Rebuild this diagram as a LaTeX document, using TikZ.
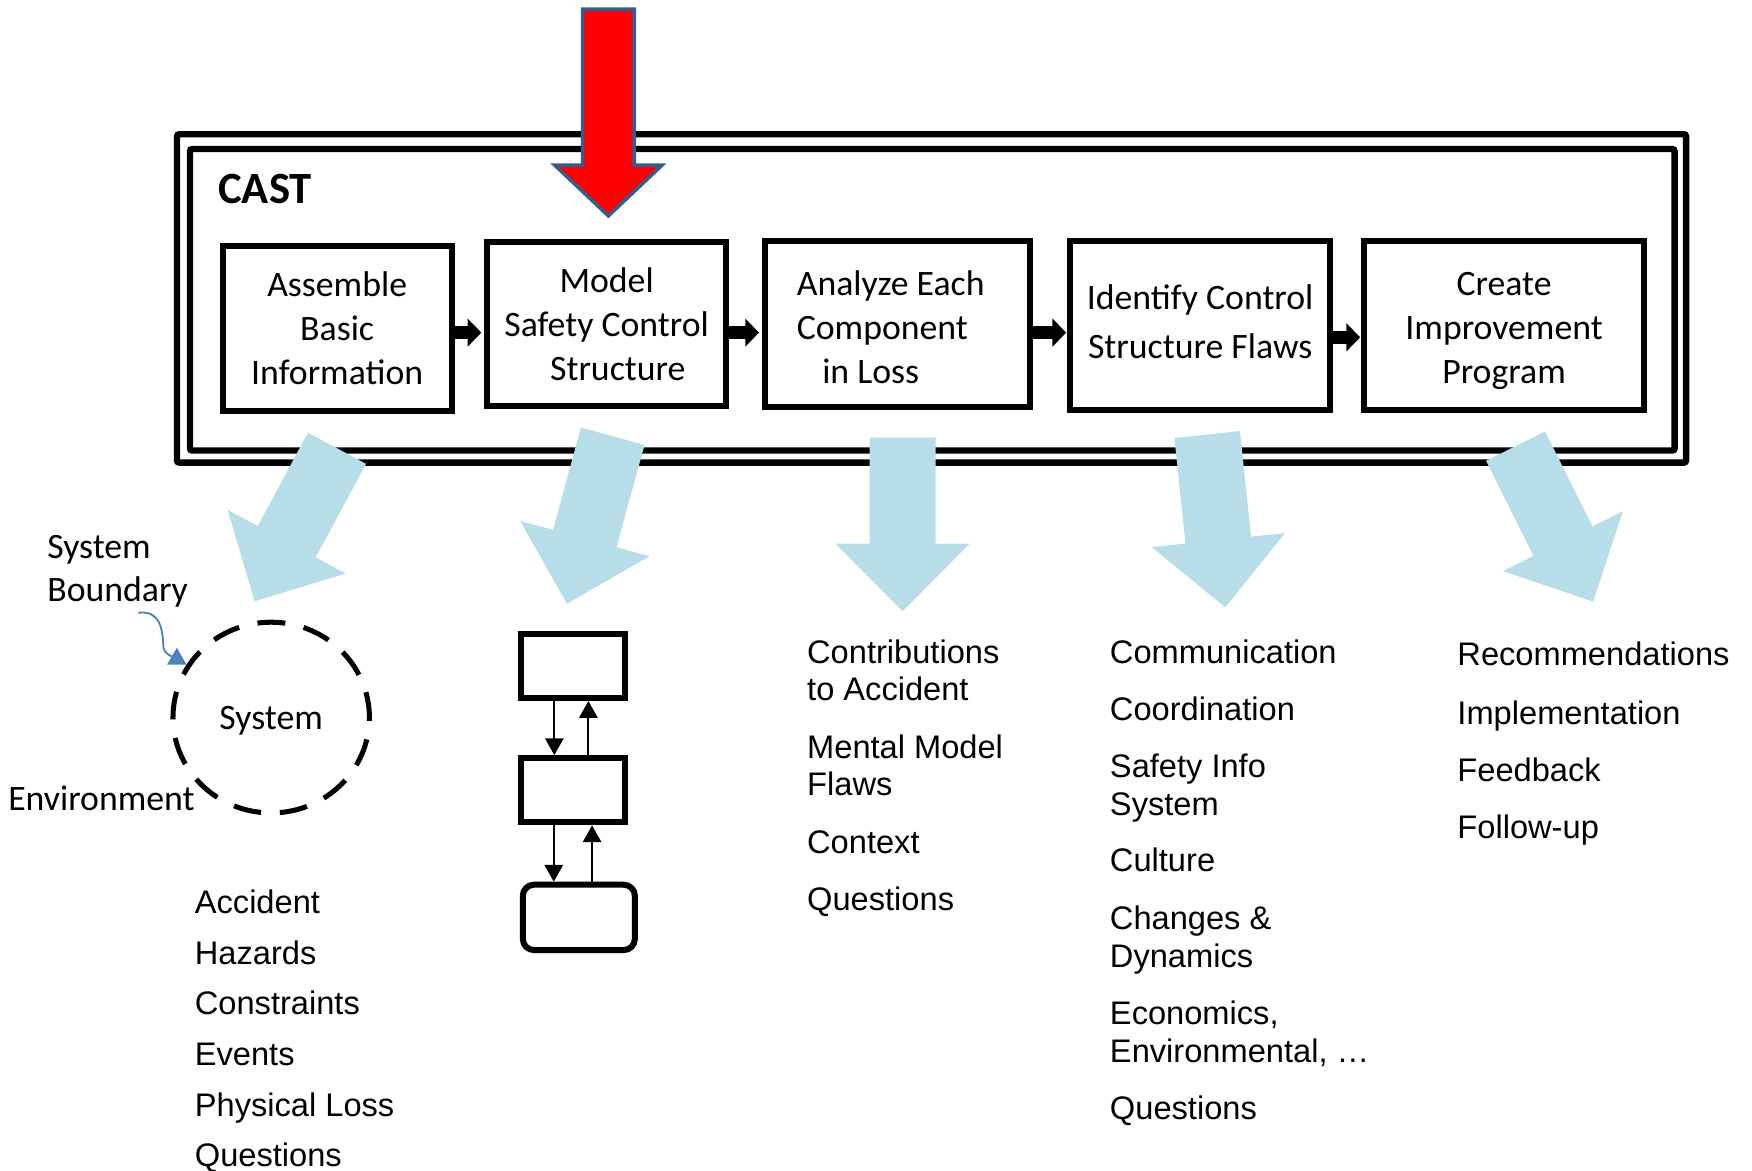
\documentclass[tikz,border=0pt]{standalone}
\usepackage{fontspec}
\setmainfont{Carlito}
\newfontfamily\listfont{Liberation Sans}
\usetikzlibrary{arrows.meta,shapes.geometric,calc}

\definecolor{tealfill}{HTML}{B7DDE8}
\definecolor{redfill}{HTML}{FF0000}
\definecolor{redline}{RGB}{56,93,138}
\definecolor{bdryblue}{HTML}{4A7EBB}
\definecolor{bdryhead}{HTML}{4F81BD}

% light blue block arrow: tail centre at #1, turned by #2 degrees
\newcommand\tealarrow[2]{%
  \begin{scope}[shift={(#1)},rotate=#2]
    \fill[tealfill] (-29.5,0) -- (29.5,0) -- (29.5,95) -- (60,95) -- (0,155.5)
      -- (-60,95) -- (-29.5,95) -- cycle;
  \end{scope}}

\tikzset{
  frameline/.style={draw, line width=2.85pt, rounded corners=1pt},
  stepbox/.style={draw, line width=2.6pt, align=center, inner sep=0pt,
    font=\fontsize{16}{19.7}\selectfont},
  flowarrow/.style={line width=5.95pt, -{Triangle[length=6.15pt,width=12.25pt]}},
  ctrlbox/.style={draw, line width=2.7pt, inner sep=0pt},
  ctrlarrow/.style={line width=0.9pt, -{Triangle[length=7.5pt,width=8.2pt]}},
  plain/.style={inner sep=0pt, anchor=base west, font=\fontsize{16}{19.7}\selectfont},
  listtext/.style={inner sep=0pt, anchor=base west,
    font=\listfont\fontsize{14.6}{16.8}\selectfont},
}

\begin{document}
\begin{tikzpicture}[x=0.5pt,y=-0.5pt]
\useasboundingbox (0,0) rectangle (1568,1048);

% double frame of the CAST process
\draw[frameline] (158.4,120.1) rectangle (1509,414);
\draw[frameline] (170,133.4) rectangle (1498.7,403.2);
\node[inner sep=0pt, anchor=base west, font=\bfseries\fontsize{20}{24}\selectfont]
  (cast) at (195,182) {CAST};

% the five steps
\node[stepbox, minimum width=102.45pt, minimum height=73.85pt] (b1) at (301.75,293.85)
  {Assemble\\Basic\\Information};
\node[stepbox, minimum width=107.1pt, minimum height=73.25pt] (b2) at (542.9,289.95)
  {Model\\Safety Control\\\hspace*{10pt}Structure};
\node[stepbox, align=left, minimum width=118.85pt, minimum height=74.2pt] (b3) at (803.15,290.1)
  {\rule{0pt}{14.2pt}Analyze Each\rule{6pt}{0pt}\\Component\\\hspace*{11.4pt}in Loss};
\node[stepbox, font=\fontsize{16}{22.35}\selectfont, minimum width=116.3pt, minimum height=75.4pt]
  (b4) at (1074.1,291.3) {Identify Control\\Structure Flaws\rule[-3.5pt]{0pt}{0pt}};
\node[stepbox, minimum width=125.2pt, minimum height=75.55pt] (b5) at (1346.1,291.45)
  {\rule{0pt}{14.8pt}Create\\Improvement\\Program};

% arrows between the steps
\coordinate (lane) at (0,297.7);
\coordinate (lane5) at (0,301.9);
\draw[flowarrow] (b1.east |- lane) -- ($(b2.west |- lane)+(-2.4,0)$);
\draw[flowarrow] (b2.east |- lane) -- ($(b3.west |- lane)+(-2.4,0)$);
\draw[flowarrow] (b3.east |- lane) -- ($(b4.west |- lane)+(-1,0)$);
\draw[flowarrow] (b4.east |- lane5) -- ($(b5.west |- lane5)+(-1,0)$);

% red entry arrow
\draw[fill=redfill, draw=redline, line width=1.6pt]
  (521.4,8.3) -- (567.6,8.3) -- (567.6,147.8) -- (592.5,147.8) -- (544.5,193.2)
  -- (496.5,147.8) -- (521.4,147.8) -- cycle;

% outputs of each step
\tealarrow{301.6,401.2}{-28.3}
\tealarrow{548.4,390.4}{-15.3}
\tealarrow{807.8,391.6}{0}
\tealarrow{1080.4,388.9}{6.0}
\tealarrow{1356.4,399.3}{26.5}

% system and its boundary
\node[ellipse, draw, line width=2.25pt, dash pattern=on 12.5pt off 8.4pt, dash phase=1pt,
  minimum width=87.9pt, minimum height=85.35pt, inner sep=0pt, text depth=0pt,
  font=\fontsize{16}{19.7}\selectfont] (sys) at (242.7,642.2) {System};
\node[plain] (sysb1) at (42,499.7) {System};
\node[plain] (sysb2) at (42,538.5) {Boundary};
\node[plain] (env) at (7,725) {Environment};
\coordinate (bstart) at (123.8,548.4);
\draw[draw=bdryblue, line width=0.8pt,
  -{Triangle[length=7.5pt,width=8.5pt,fill=bdryhead]}]
  (bstart) .. controls (143,546) and (145.5,562) .. (146.2,578.8)
  .. controls (146.8,586) and (156,588.5) .. (sys.148);

% control structure sketch
\node[ctrlbox, minimum width=46.55pt, minimum height=28.75pt] (mA) at (513.15,595.95) {};
\node[ctrlbox, minimum width=46.55pt, minimum height=28.75pt] (mB) at (513.15,707.25) {};
\node[ctrlbox, rounded corners=5pt, minimum width=50.15pt, minimum height=29.25pt]
  (mC) at (518.05,821.05) {};
\coordinate (dn1) at (496.1,0);
\coordinate (up1) at (526.6,0);
\coordinate (dn2) at (495.6,0);
\coordinate (up2) at (529.9,0);
\draw[ctrlarrow] (mA.south -| dn1) -- (mB.north -| dn1);
\draw[ctrlarrow] (mB.north -| up1) -- (mA.south -| up1);
\draw[ctrlarrow] (mB.south -| dn2) -- (mC.north -| dn2);
\draw[ctrlarrow] (mC.north -| up2) -- (mB.south -| up2);

% basic information
\node[listtext] (l1a) at (174,818) {Accident};
\node[listtext] (l1b) at (174,863) {Hazards};
\node[listtext] (l1c) at (174,908) {Constraints};
\node[listtext] (l1d) at (174,953.5) {Events};
\node[listtext] (l1e) at (174,999) {Physical Loss};
\node[listtext] (l1f) at (174,1044) {Questions};

% component analysis
\node[listtext] (l2a) at (722,594) {Contributions};
\node[listtext] (l2b) at (722,627) {to Accident};
\node[listtext] (l2c) at (722,679) {Mental Model};
\node[listtext] (l2d) at (722,712) {Flaws};
\node[listtext] (l2e) at (722,764) {Context};
\node[listtext] (l2f) at (722,815) {Questions};

% control structure flaws
\node[listtext] (l3a) at (993,594) {Communication};
\node[listtext] (l3b) at (993,645) {Coordination};
\node[listtext] (l3c) at (993,696) {Safety Info};
\node[listtext] (l3d) at (993,730) {System};
\node[listtext] (l3e) at (993,780) {Culture};
\node[listtext] (l3f) at (993,832) {Changes \&};
\node[listtext] (l3g) at (993,866) {Dynamics};
\node[listtext] (l3h) at (993,917) {Economics,};
\node[listtext] (l3i) at (993,951) {Environmental, …};
\node[listtext] (l3j) at (993,1002) {Questions};

% improvement program
\node[listtext] (l4a) at (1304,596) {Recommendations};
\node[listtext] (l4b) at (1304,648) {Implementation};
\node[listtext] (l4c) at (1304,699) {Feedback};
\node[listtext] (l4d) at (1304,750) {Follow-up};
\end{tikzpicture}
\end{document}
